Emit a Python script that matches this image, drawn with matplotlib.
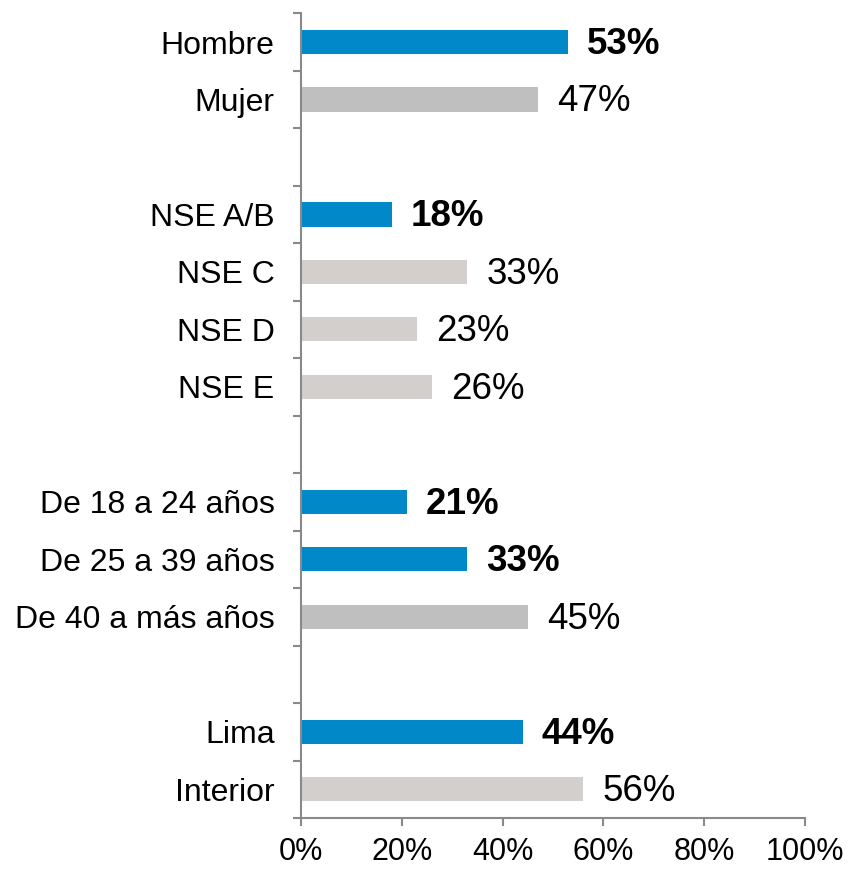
import matplotlib
matplotlib.use("Agg")
import matplotlib.pyplot as plt
from matplotlib.ticker import FixedLocator, PercentFormatter

plt.rcParams['font.family'] = ['Liberation Sans', 'DejaVu Sans']

# rows (empty string = spacer row)
labels = ["Hombre", "Mujer", "", "NSE A/B", "NSE C", "NSE D", "NSE E", "",
          "De 18 a 24 años", "De 25 a 39 años", "De 40 a más años", "",
          "Lima", "Interior"]
values = [53, 47, None, 18, 33, 23, 26, None, 21, 33, 45, None, 44, 56]
highlight = [True, False, None, True, False, False, False, None,
             True, True, False, None, True, False]
xticks = [0, 20, 40, 60, 80, 100]

BLUE = "#0088C8"
GRAY1 = "#BFBFBF"
GRAY2 = "#D3CFCC"
gray_kind = [None, GRAY1, None, None, GRAY2, GRAY2, GRAY2, None,
             None, None, GRAY1, None, None, GRAY2]

fig = plt.figure(figsize=(8.5, 8.69), dpi=100)
ax = fig.add_axes([0.354, 0.0587, 0.593, 0.926])

n = len(labels)
for i, (v, h) in enumerate(zip(values, highlight)):
    if v is None:
        continue
    color = BLUE if h else gray_kind[i]
    ax.barh(i, v, height=0.42, color=color, zorder=2)
    ax.text(v + 3.8, i + 0.04, f"{v}%", va="center", ha="left",
            fontsize=26.5, fontweight="bold" if h else "normal", color="black")

ax.set_ylim(n - 0.5, -0.5)
ax.set_xlim(0, 100)

# category labels (no tick marks)
ax.set_yticks(range(n))
ax.set_yticklabels(labels, fontsize=23)
ax.tick_params(axis="y", which="major", length=0, pad=19)
# boundary tick marks
ax.yaxis.set_minor_locator(FixedLocator([i - 0.5 for i in range(n + 1)]))
ax.tick_params(axis="y", which="minor", length=6, width=1.5, color="#898989",
               direction="out")

ax.set_xticks(xticks)
ax.xaxis.set_major_formatter(PercentFormatter(decimals=0))
ax.tick_params(axis="x", length=6, width=1.5, color="#898989", direction="out",
               labelsize=22, pad=8)

for s in ["top", "right"]:
    ax.spines[s].set_visible(False)
for s in ["left", "bottom"]:
    ax.spines[s].set_color("#898989")
    ax.spines[s].set_linewidth(1.5)

fig.savefig("out.png", dpi=100)
